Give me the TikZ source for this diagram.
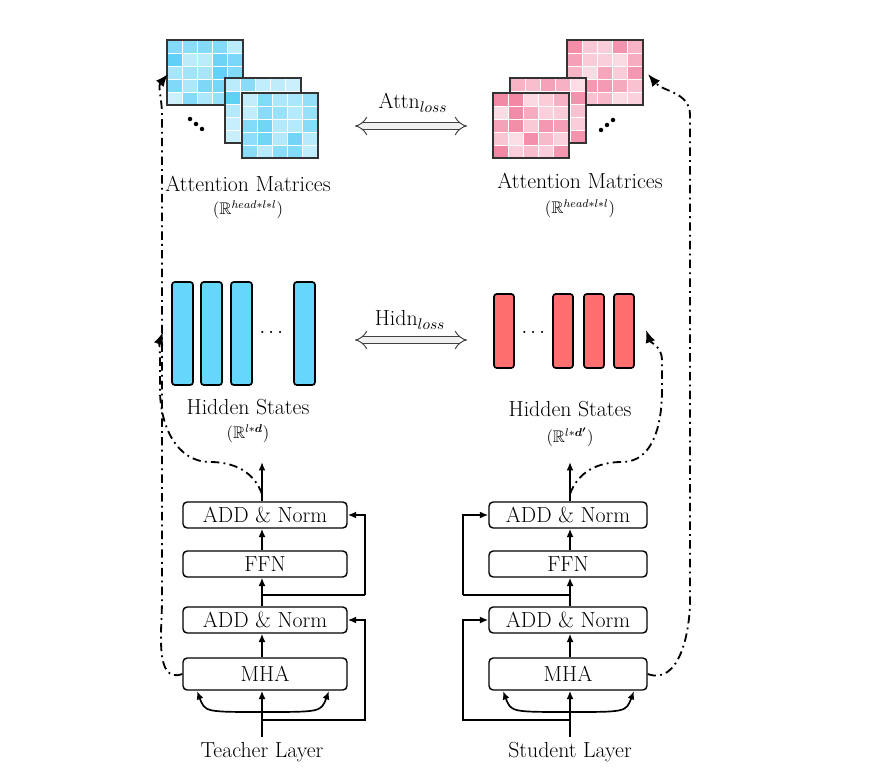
\documentclass[tikz,border=0pt]{standalone}
\usepackage{amsmath,amssymb}
\usetikzlibrary{arrows.meta,positioning}
\definecolor{tblue}{HTML}{45C8F5}
\definecolor{spink}{HTML}{F07898}
\definecolor{barblue}{HTML}{66D6FA}
\definecolor{barred}{HTML}{FF6F6F}

\tikzset{
  block/.style={draw, rounded corners=3pt, line width=1pt, minimum width=4.1cm, minimum height=0.65cm, inner sep=0pt},
  arr/.style={-{Latex[length=6pt,width=5pt]}, line width=1.2pt},
  dd/.style={-{Latex[length=9pt,width=7pt]}, line width=1.3pt, dash pattern=on 6pt off 3pt on 1.3pt off 3pt},
  lbl/.style={font=\fontsize{15.5}{17}\selectfont},
  sub/.style={font=\fontsize{12}{14}\selectfont},
  loss/.style={double=black!6, double distance=4pt, line width=0.7pt, draw=black!75, {Implies}-{Implies}},
}

% one 5x5 attention matrix: x, y, colour
\newcommand{\attnmat}[3]{%
  \foreach \i in {0,...,4}{\foreach \j in {0,...,4}{
    \pgfmathsetmacro{\t}{int(25+65*rnd)}
    \fill[#3!\t!white, draw=white, line width=0.7pt] (#1+\i*15.2,#2+\j*13) rectangle ++(15.2,13);
  }}
  \draw[line width=1.8pt, black!80] (#1,#2) rectangle ++(76,65);
}

\begin{document}
\begin{tikzpicture}[x=0.025cm, y=-0.025cm]
\pgfmathsetseed{11}
\useasboundingbox[fill=white] (0,0) rectangle (880,780);

% attention matrices
\attnmat{167}{40}{tblue}
\attnmat{225}{78}{tblue}
\attnmat{242}{93}{tblue}
\foreach \d in {0,1,2}{\fill (190+\d*6,119+\d*5) circle (1.6pt);}
\attnmat{567}{40}{spink}
\attnmat{510}{78}{spink}
\attnmat{493}{93}{spink}
\foreach \d in {0,1,2}{\fill (601+\d*6,130-\d*5) circle (1.6pt);}

\node[lbl] (tatt) at (248,184) {Attention Matrices};
\node[sub] (tattr) at (248,210) {$(\mathbb{R}^{head*l*l})$};
\node[lbl] (satt) at (580,181) {Attention Matrices};
\node[sub] (sattr) at (580,209) {$(\mathbb{R}^{head*l*l})$};

\node[lbl] (attn) at (413,103) {Attn$_{loss}$};
\coordinate (al) at (355,126);
\coordinate (ar) at (467,126);
\draw[loss] (al) -- (ar);

% hidden states
\foreach \x in {172,201,231,294}{
  \draw[fill=barblue, line width=1.2pt, rounded corners=2pt] (\x,282) rectangle ++(21,103);
}
\node[lbl] (thdots) at (273,333) {$\cdots$};
\foreach \x in {494,553,584,614}{
  \draw[fill=barred, line width=1.2pt, rounded corners=2pt] (\x,294) rectangle ++(20,74);
}
\node[lbl] (shdots) at (535,333) {$\cdots$};

\node[lbl] (thid) at (248,407) {Hidden States};
\node[sub] (thidr) at (248,434) {$(\mathbb{R}^{l*\boldsymbol{d}})$};
\node[lbl] (shid) at (570,409) {Hidden States};
\node[sub] (shidr) at (570,437) {$(\mathbb{R}^{l*\boldsymbol{d'}})$};

\node[lbl] (hidn) at (410,320) {Hidn$_{loss}$};
\coordinate (hl) at (355,340);
\coordinate (hr) at (467,340);
\draw[loss] (hl) -- (hr);

% teacher layer
\node[block, lbl] (tadd2) at (265,515) {ADD \& Norm};
\node[block, lbl] (tffn) at (265,564) {FFN};
\node[block, lbl] (tadd1) at (265,620) {ADD \& Norm};
\node[block, lbl, minimum height=0.8cm] (tmha) at (265,674) {MHA};
\node[lbl] (tlab) at (262,752) {Teacher Layer};
\coordinate (tr1) at (262,720);
\coordinate (tr2) at (262,595);
\coordinate (tout) at (262,462);
\coordinate (tsplit) at (262,712);
\coordinate (tml) at (197,691);
\coordinate (tmr) at (329,691);
\draw[line width=1.2pt] (tlab.north) -- (tr1);
\draw[arr] (tr1) -- (tmha.south -| tr1);
\draw[arr] (tr1) -- ++(103,0) |- (tadd1.east);
\draw[arr] (tsplit) .. controls (205,712) .. (tml);
\draw[arr] (tsplit) .. controls (321,712) .. (tmr);
\draw[arr] (tmha.north -| tr1) -- (tadd1.south -| tr1);
\draw[arr] (tadd1.north -| tr1) -- (tffn.south -| tr1);
\draw[line width=1.2pt] (tr2) -- ++(103,0);
\draw[arr] (tr2) ++(103,0) |- (tadd2.east);
\draw[arr] (tffn.north -| tr1) -- (tadd2.south -| tr1);
\draw[arr] (tadd2.north -| tr1) -- (tout);

% student layer
\node[block, lbl, minimum width=3.95cm] (sadd2) at (568,515) {ADD \& Norm};
\node[block, lbl, minimum width=3.95cm] (sffn) at (568,564) {FFN};
\node[block, lbl, minimum width=3.95cm] (sadd1) at (568,620) {ADD \& Norm};
\node[block, lbl, minimum width=3.95cm, minimum height=0.8cm] (smha) at (568,674) {MHA};
\node[lbl] (slab) at (570,752) {Student Layer};
\coordinate (sr1) at (570,720);
\coordinate (sr2) at (570,595);
\coordinate (sout) at (570,462);
\coordinate (ssplit) at (570,712);
\coordinate (sml) at (503,691);
\coordinate (smr) at (634,691);
\draw[line width=1.2pt] (slab.north) -- (sr1);
\draw[arr] (sr1) -- (smha.south -| sr1);
\draw[arr] (sr1) -- ++(-107,0) |- (sadd1.west);
\draw[arr] (ssplit) .. controls (511,712) .. (sml);
\draw[arr] (ssplit) .. controls (626,712) .. (smr);
\draw[arr] (smha.north -| sr1) -- (sadd1.south -| sr1);
\draw[arr] (sadd1.north -| sr1) -- (sffn.south -| sr1);
\draw[line width=1.2pt] (sr2) -- ++(-107,0);
\draw[arr] (sr2) ++(-107,0) |- (sadd2.west);
\draw[arr] (sffn.north -| sr1) -- (sadd2.south -| sr1);
\draw[arr] (sadd2.north -| sr1) -- (sout);

% distillation paths
\coordinate (tatt in) at (168,74);
\coordinate (thid in) at (163,332);
\coordinate (satt in) at (648,74);
\coordinate (shid in) at (646,330);
\draw[dd] (tmha.west) to[out=200,in=-90] (162,600) -- (162,115) to[out=90,in=-130] (tatt in);
\draw[dd] (262,494) to[out=110,in=0] (210,462) to[out=180,in=-90] (160,390) -- (160,360) to[out=90,in=-110] (thid in);
\draw[dd] (smha.east) to[out=-20,in=-90] (690,600) -- (690,115) to[out=90,in=-50] (satt in);
\draw[dd] (570,494) to[out=70,in=180] (622,462) to[out=0,in=-90] (662,390) -- (662,360) to[out=90,in=-70] (shid in);
\end{tikzpicture}
\end{document}
